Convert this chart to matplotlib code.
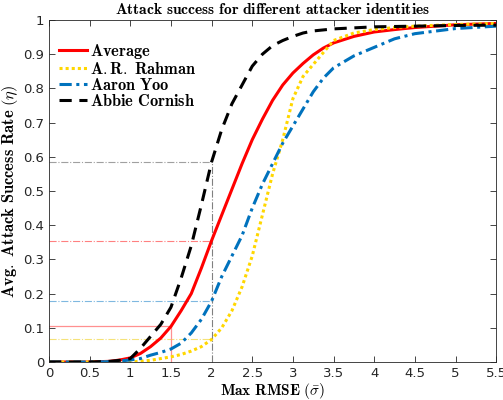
import matplotlib
matplotlib.use("Agg")
import matplotlib.pyplot as plt

plt.rcParams['mathtext.fontset'] = 'cm'

x = [0, 0.5, 0.75, 0.875, 1.0, 1.125, 1.25, 1.375, 1.5, 1.625, 1.75, 1.875, 2.0,
     2.125, 2.25, 2.375, 2.5, 2.625, 2.75, 2.875, 3.0, 3.125, 3.25, 3.375, 3.5,
     3.75, 4.0, 4.25, 4.5, 5.0, 5.5]

average = [0, 0, 0.002, 0.006, 0.012, 0.025, 0.045, 0.07, 0.104, 0.15, 0.2, 0.275, 0.355,
           0.43, 0.505, 0.58, 0.65, 0.71, 0.765, 0.81, 0.845, 0.873, 0.898, 0.918, 0.933,
           0.952, 0.965, 0.972, 0.978, 0.986, 0.99]
rahman = [0, 0, 0, 0, 0, 0.002, 0.005, 0.01, 0.015, 0.022, 0.032, 0.045, 0.066,
          0.1, 0.15, 0.22, 0.31, 0.43, 0.55, 0.65, 0.77, 0.835, 0.87, 0.905, 0.94,
          0.962, 0.972, 0.978, 0.982, 0.987, 0.99]
yoo = [0, 0, 0.001, 0.003, 0.006, 0.01, 0.02, 0.028, 0.038, 0.055, 0.085, 0.125, 0.178,
       0.25, 0.31, 0.37, 0.45, 0.52, 0.58, 0.64, 0.69, 0.74, 0.79, 0.83, 0.86,
       0.895, 0.92, 0.945, 0.96, 0.975, 0.982]
cornish = [0, 0, 0.002, 0.005, 0.01, 0.04, 0.075, 0.11, 0.16, 0.245, 0.34, 0.46, 0.585,
           0.68, 0.755, 0.81, 0.865, 0.9, 0.925, 0.94, 0.952, 0.962, 0.968, 0.971, 0.974,
           0.977, 0.98, 0.981, 0.982, 0.984, 0.985]

labels = [r'$\mathbf{Average}$', r'$\mathbf{A.R.\ Rahman}$',
          r'$\mathbf{Aaron\ Yoo}$', r'$\mathbf{Abbie\ Cornish}$']

# reference markers: (x, y) of threshold points
ref_x = [2.0, 2.0, 2.0, 2.0]
ref_y = [0.355, 0.066, 0.178, 0.585]
avg_mark_x = 1.5
avg_mark_y = 0.104

fig = plt.figure(figsize=(5.03, 4.00), dpi=100)
ax = fig.add_axes([0.0974, 0.095, 0.889, 0.855])

ref_colors = ['#ff8080', '#f5e27a', '#7fb8e0', '#a0a0a0']
for rx, ry, c in zip(ref_x, ref_y, ref_colors):
    ax.plot([0, rx], [ry, ry], color=c, lw=0.8, ls='-.')
ax.plot([ref_x[3], ref_x[3]], [0, ref_y[3]], color='#808080', lw=0.8, ls='-.')
ax.plot([0, avg_mark_x], [avg_mark_y, avg_mark_y], color='#ff9090', lw=0.9)
ax.plot([avg_mark_x, avg_mark_x], [0, avg_mark_y], color='#ff9090', lw=0.9)

l1, = ax.plot(x, average, color='#ff0000', lw=2.2, ls='-')
l2, = ax.plot(x, rahman, color='#ffd700', lw=2.2, ls=(0, (1, 1)))
l3, = ax.plot(x, yoo, color='#0072bd', lw=2.2, ls=(0, (4, 1.5, 1, 1.5)))
l4, = ax.plot(x, cornish, color='#000000', lw=2.2, ls=(0, (4, 2.5)))

ax.set_xlim(0, 5.5)
ax.set_ylim(0, 1)
ax.set_xticks([0, 0.5, 1, 1.5, 2, 2.5, 3, 3.5, 4, 4.5, 5, 5.5])
ax.set_xticklabels(['0', '0.5', '1', '1.5', '2', '2.5', '3', '3.5', '4', '4.5', '5', '5.5'])
ax.set_yticks([0, 0.1, 0.2, 0.3, 0.4, 0.5, 0.6, 0.7, 0.8, 0.9, 1])
ax.set_yticklabels(['0', '0.1', '0.2', '0.3', '0.4', '0.5', '0.6', '0.7', '0.8', '0.9', '1'])
ax.tick_params(direction='in', top=True, right=True, labelsize=9.5,
               colors='#262626', length=4, width=0.6)
for s in ax.spines.values():
    s.set_color('#262626')
    s.set_linewidth(0.6)

ax.set_title(r'$\mathbf{Attack\ success\ for\ different\ attacker\ identities}$',
             fontsize=11.2, pad=4)
ax.set_xlabel(r'$\mathbf{Max\ RMSE}\ (\bar{\sigma})$', fontsize=11, labelpad=1)
ax.set_ylabel(r'$\mathbf{Avg.\ Attack\ Success\ Rate}\ (\eta)$', fontsize=11.8, labelpad=2)

ax.legend([l1, l2, l3, l4], labels, loc='upper left', bbox_to_anchor=(0.0, 0.965),
          frameon=False, fontsize=11.75, handlelength=1.75, handletextpad=0.15,
          labelspacing=0.0, borderaxespad=0.2)

fig.savefig('out.png', dpi=100)
